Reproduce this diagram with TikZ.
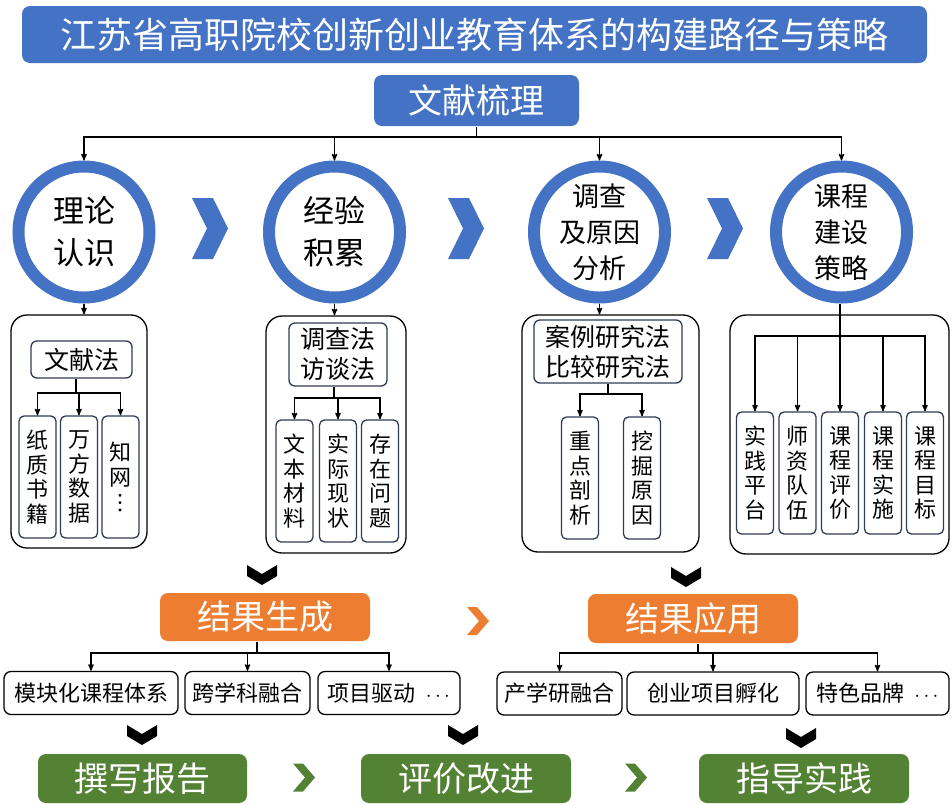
\documentclass[tikz,border=0pt]{standalone}
\usepackage{fontspec}
\setmainfont{Noto Sans CJK SC}
\usepackage{xcolor}
\usetikzlibrary{arrows,positioning}
\definecolor{myblue}{HTML}{4472C4}
\definecolor{myorange}{HTML}{ED7D31}
\definecolor{mygreen}{HTML}{548235}
\definecolor{mynavy}{HTML}{2E3B55}

\begin{document}
\begin{tikzpicture}[x=1pt,y=-1pt,>=stealth',line width=1.3pt]
    \tikzstyle{bar}=[rounded corners=8pt,text=white,inner sep=0pt,font=\fontsize{34}{40}\selectfont]
    \tikzstyle{ring}=[circle,draw=myblue,line width=12pt,fill=white,minimum size=131pt,inner sep=0pt,align=center]
    \tikzstyle{outerbox}=[draw=black,rounded corners=16pt,inner sep=0pt]
    \tikzstyle{headbox}=[draw=mynavy,rounded corners=6pt,align=center,inner sep=0pt,font=\fontsize{25}{30}\selectfont]
    \tikzstyle{vbox}=[draw=mynavy,rounded corners=5pt,align=center,inner sep=0pt,minimum width=37pt,minimum height=122pt,font=\fontsize{22}{24.5}\selectfont]
    \tikzstyle{hbox}=[draw=black,rounded corners=7pt,inner sep=0pt,minimum height=43pt,font=\fontsize{22}{26}\selectfont]
    \useasboundingbox (0,0) rectangle (952,804);

    % top
    \node[bar,fill=myblue,minimum width=905pt,minimum height=57pt,font=\fontsize{36}{40}\selectfont] (title) at (474.5,34.5) {江苏省高职院校创新创业教育体系的构建路径与策略};
    \node[bar,fill=myblue,minimum width=205pt,minimum height=51pt] (wx) at (476.5,100.5) {文献梳理};

    % circles
    \node[ring,font=\fontsize{31}{42}\selectfont] (c1) at (84,232) {理论\\认识};
    \node[ring,font=\fontsize{31}{42}\selectfont] (c2) at (334.5,232) {经验\\积累};
    \node[ring,font=\fontsize{27}{36}\selectfont] (c3) at (599.5,232) {调查\\及原因\\分析};
    \node[ring,font=\fontsize{27}{36}\selectfont] (c4) at (841.5,232) {课程\\建设\\策略};
    \foreach \x in {192,448,707}
      \fill[myblue] (\x,198) -- ++(21,0) -- ++(15,30.5) -- ++(-15,30.5) -- ++(-21,0) -- ++(15,-30.5) -- cycle;

    \coordinate (b0) at (476.5,137);
    \draw (wx.south) -- (b0);
    \foreach \c in {c1,c2,c3,c4}
      \draw[->] (b0) -| (\c.north);

    % outer boxes
    \node[outerbox,minimum width=136pt,minimum height=233pt] (box1) at (79,431.5) {};
    \node[outerbox,minimum width=140pt,minimum height=237pt] (box2) at (336,434.5) {};
    \node[outerbox,minimum width=177pt,minimum height=237pt] (box3) at (610.5,433.5) {};
    \node[outerbox,minimum width=219pt,minimum height=239pt] (box4) at (839.5,434.5) {};
    \foreach \c/\b in {c1/box1,c2/box2,c3/box3}
      \draw[->] (\c.south) -- (\c.south |- \b.north);

    % box 1
    \node[headbox,minimum width=101pt,minimum height=37pt] (h1) at (81.5,359.5) {文献法};
    \node[vbox] (a1) at (37.5,477) {纸\\质\\书\\籍};
    \node[vbox] (a2) at (79,477) {万\\方\\数\\据};
    \node[vbox] (a3) at (120.5,477) {知\\网\\[2pt]︙};
    \coordinate (b1) at (76,393);
    \draw (h1.south -| b1) -- (b1);
    \foreach \n in {a1,a2,a3}
      \draw[->] (b1) -| (\n.north);

    % box 2
    \node[headbox,minimum width=98pt,minimum height=63pt] (h2) at (338,354.5) {调查法\\访谈法};
    \node[vbox] (d1) at (294.5,481) {文\\本\\材\\料};
    \node[vbox] (d2) at (338,481) {实\\际\\现\\状};
    \node[vbox] (d3) at (380,481) {存\\在\\问\\题};
    \coordinate (b2) at (334,398);
    \draw (h2.south -| b2) -- (b2);
    \foreach \n in {d1,d2,d3}
      \draw[->] (b2) -| (\n.north);

    % box 3
    \node[headbox,minimum width=148pt,minimum height=63pt] (h3) at (608,351.5) {案例研究法\\比较研究法};
    \node[vbox] (e1) at (580,478) {重\\点\\剖\\析};
    \node[vbox] (e2) at (642,478) {挖\\掘\\原\\因};
    \coordinate (b3) at (608,394);
    \draw (h3.south) -- (b3);
    \foreach \n in {e1,e2}
      \draw[->] (b3) -| (\n.north);

    % box 4
    \node[vbox] (f1) at (755,473) {实\\践\\平\\台};
    \node[vbox] (f2) at (797.5,473) {师\\资\\队\\伍};
    \node[vbox] (f3) at (840,473) {课\\程\\评\\价};
    \node[vbox] (f4) at (883,473) {课\\程\\实\\施};
    \node[vbox] (f5) at (925,473) {课\\程\\目\\标};
    \coordinate (b4) at (840,336);
    \draw (c4.south -| b4) -- (b4);
    \foreach \n in {f1,f2,f3,f4,f5}
      \draw[->] (b4) -| (\n.north);

    % results
    \foreach \x/\y in {262/565,686/567,142/725,463/725,801/728}
      \fill (\x-15,\y) -- (\x,\y+9) -- (\x+15,\y) -- (\x+15,\y+11) -- (\x,\y+20) -- (\x-15,\y+11) -- cycle;
    \foreach \x/\y/\c in {467/621/myorange,293/777.5/mygreen,625/777.5/mygreen}
      \fill[\c] (\x,\y-14) -- ++(10,0) -- ++(12,14) -- ++(-12,14) -- ++(-10,0) -- ++(12,-14) -- cycle;

    \node[bar,fill=myorange,minimum width=210pt,minimum height=48pt] (r1) at (265,617) {结果生成};
    \node[bar,fill=myorange,minimum width=210pt,minimum height=49pt] (r2) at (693,618.5) {结果应用};

    \node[hbox,minimum width=174pt] (g1) at (91,693) {模块化课程体系};
    \node[hbox,minimum width=125pt] (g2) at (247.5,693) {跨学科融合};
    \node[hbox,minimum width=142pt] (g3) at (389,693) {项目驱动\ \ $\cdots$};
    \node[hbox,minimum width=125pt] (k1) at (559.5,693.5) {产学研融合};
    \node[hbox,minimum width=172pt] (k2) at (713,693.5) {创业项目孵化};
    \node[hbox,minimum width=143pt] (k3) at (877.5,693.5) {特色品牌\ \ $\cdots$};

    \coordinate (b5) at (257,653);
    \draw (r1.south -| b5) -- (b5);
    \foreach \n in {g1,g2,g3}
      \draw[->] (b5) -| (\n.north);
    \coordinate (b6) at (698,653);
    \draw (r2.south -| b6) -- (b6);
    \foreach \n in {k1,k2,k3}
      \draw[->] (b6) -| (\n.north);

    \node[bar,fill=mygreen,minimum width=209pt,minimum height=49pt] (p1) at (142.5,778.5) {撰写报告};
    \node[bar,fill=mygreen,minimum width=210pt,minimum height=49pt] (p2) at (466,778.5) {评价改进};
    \node[bar,fill=mygreen,minimum width=210pt,minimum height=49pt] (p3) at (804,778.5) {指导实践};
\end{tikzpicture}
\end{document}
